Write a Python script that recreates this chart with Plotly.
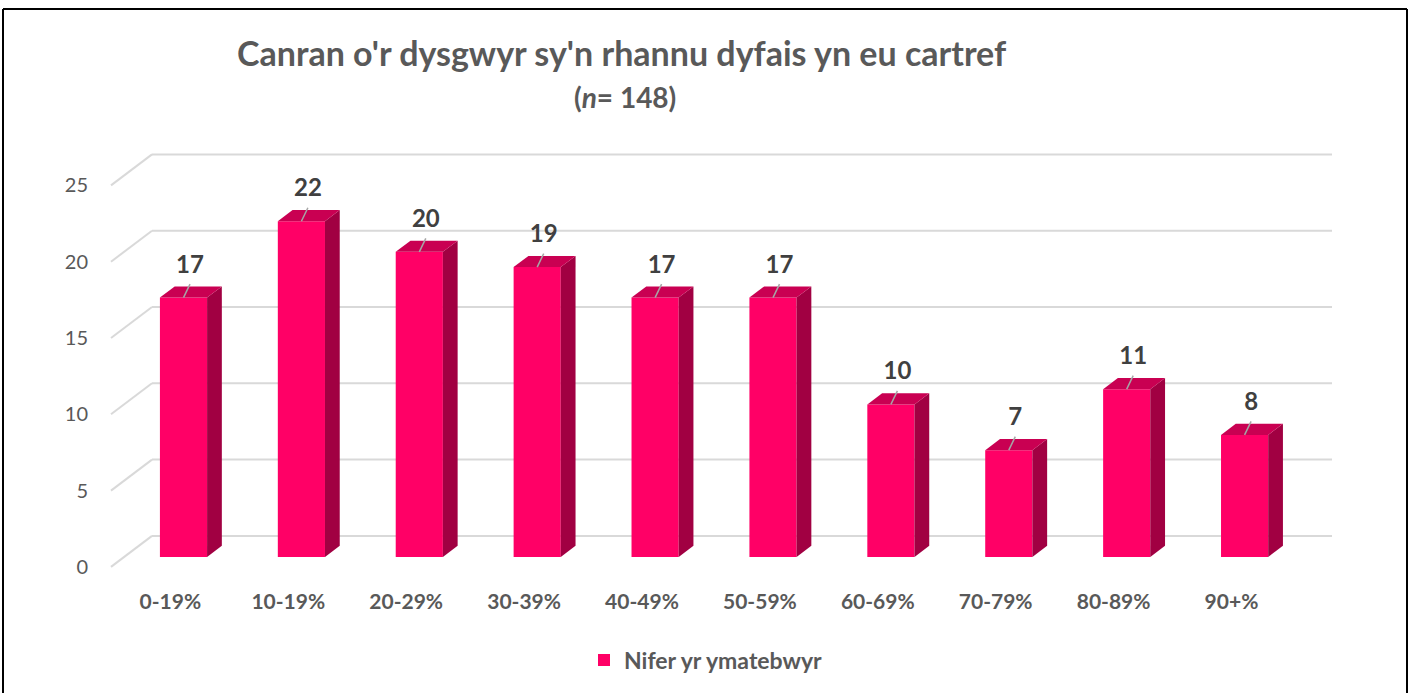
import plotly.graph_objects as go

# ---------------- data ----------------
categories = ["0-19%", "10-19%", "20-29%", "30-39%", "40-49%",
              "50-59%", "60-69%", "70-79%", "80-89%", "90+%"]
values = [17, 22, 20, 19, 17, 17, 10, 7, 11, 8]
y_ticks = [0, 5, 10, 15, 20, 25]
series_name = "Nifer yr ymatebwyr"
title_text = "Canran o'r dysgwyr sy'n rhannu dyfais yn eu cartref"
subtitle_text = "(<i>n</i>= 148)"

# ---------------- styling / geometry (page pixels) ----------------
W, H = 1414, 693
L, R, T, B = 100, 1340, 130, 580          # plot area in page pixels
PX_X = 117.9                              # pixels per category
PX_Y = 15.26                              # pixels per unit value
X0_PX = 183.5                             # pixel of first category (bar front plane)
Y0_PX = 557                               # pixel of value 0 (bar front plane)
DEPTH_DX, DEPTH_DY = 41, 31               # full floor depth in pixels
FRONT_FRAC = 0.32                         # bar front face depth position
BAR_FRAC = 0.36                           # bar depth
BAR_W = 0.40
WALL_LEFT_FRONT_PX = 111
WALL_RIGHT_BACK_PX = 1332

FRONT = "#FF0066"
SIDE = "#A10042"
TOP = "#C90052"
GRID = "#D9D9D9"
TXT = "#595959"
LBL = "#404040"
FONT = "Lato"


def px_to_paper_x(px):
    return (px - L) / (R - L)


def px_to_paper_y(py):
    return (B - py) / (B - T)


xr = [-(X0_PX - L) / PX_X, (R - X0_PX) / PX_X]
yr = [-(B - Y0_PX) / PX_Y, (Y0_PX - T) / PX_Y]

fdx = FRONT_FRAC * DEPTH_DX / PX_X
fdy = FRONT_FRAC * DEPTH_DY / PX_Y
bkdx = (1 - FRONT_FRAC) * DEPTH_DX / PX_X
bkdy = (1 - FRONT_FRAC) * DEPTH_DY / PX_Y
bdx = BAR_FRAC * DEPTH_DX / PX_X
bdy = BAR_FRAC * DEPTH_DY / PX_Y

wall_front_x = (WALL_LEFT_FRONT_PX - X0_PX) / PX_X
wall_back_x = wall_front_x + DEPTH_DX / PX_X
wall_right_x = (WALL_RIGHT_BACK_PX - X0_PX) / PX_X

fig = go.Figure()

# gridlines (below traces)
shapes = []
for v in y_ticks:
    shapes.append(dict(type="line", xref="x", yref="y", layer="below",
                       x0=wall_front_x, y0=v - fdy,
                       x1=wall_back_x, y1=v + bkdy,
                       line=dict(color=GRID, width=2)))
    shapes.append(dict(type="line", xref="x", yref="y", layer="below",
                       x0=wall_back_x, y0=v + bkdy,
                       x1=wall_right_x, y1=v + bkdy,
                       line=dict(color=GRID, width=2)))

# outer frame (top, left, right edges)
for (ax0, ay0, ax1, ay1) in [(3, 9, 1407, 9), (3, 9, 3, 700), (1407, 9, 1407, 700)]:
    shapes.append(dict(type="line", xref="paper", yref="paper", layer="above",
                       x0=px_to_paper_x(ax0), y0=px_to_paper_y(ay0),
                       x1=px_to_paper_x(ax1), y1=px_to_paper_y(ay1),
                       line=dict(color="black", width=2)))

idx = list(range(len(categories)))

# front faces
fig.add_trace(go.Bar(x=idx, y=values, width=BAR_W, name=series_name,
                     marker=dict(color=FRONT, line=dict(width=0)),
                     hoverinfo="skip", showlegend=True))

# side and top faces
for i, v in zip(idx, values):
    xr_ = i + BAR_W / 2
    xl_ = i - BAR_W / 2
    fig.add_trace(go.Scatter(
        x=[xr_, xr_ + bdx, xr_ + bdx, xr_, xr_],
        y=[0, bdy, v + bdy, v, 0],
        fill="toself", fillcolor=SIDE, mode="lines", line=dict(width=0, color=SIDE),
        hoverinfo="skip", showlegend=False))
    fig.add_trace(go.Scatter(
        x=[xl_, xr_, xr_ + bdx, xl_ + bdx, xl_],
        y=[v, v, v + bdy, v + bdy, v],
        fill="toself", fillcolor=TOP, mode="lines", line=dict(width=0, color=TOP),
        hoverinfo="skip", showlegend=False))

# leader lines and data labels
LEAD_DX, LEAD_DY = 6.5 / PX_X, 13.5 / PX_Y
LAB_DX, LAB_DY = 6.5 / PX_X, 31 / PX_Y
lx, ly = [], []
for i, v in zip(idx, values):
    lx += [i, i + LEAD_DX, None]
    ly += [v, v + LEAD_DY, None]
fig.add_trace(go.Scatter(x=lx, y=ly, mode="lines",
                         line=dict(color="#A6A6A6", width=1.5),
                         hoverinfo="skip", showlegend=False))
fig.add_trace(go.Scatter(x=[i + LAB_DX for i in idx], y=[v + LAB_DY for v in values],
                         mode="text", text=[str(v) for v in values],
                         textposition="middle center",
                         textfont=dict(family=FONT, size=24, color=LBL, weight="bold"),
                         hoverinfo="skip", showlegend=False))

# dummy trace to carry the front-edge tick axes
fig.add_trace(go.Scatter(x=[None], y=[None], xaxis="x2", yaxis="y2",
                         mode="markers", hoverinfo="skip", showlegend=False))

fig.update_layout(
    width=W, height=H,
    margin=dict(l=L, r=W - R, t=T, b=H - B, pad=0),
    paper_bgcolor="white", plot_bgcolor="white",
    font=dict(family=FONT, color=TXT),
    shapes=shapes,
    xaxis=dict(range=xr, visible=False, fixedrange=True),
    yaxis=dict(range=yr, visible=False, fixedrange=True),
    xaxis2=dict(overlaying="x", range=[xr[0] + fdx, xr[1] + fdx],
                tickmode="array", tickvals=idx, ticktext=categories,
                showgrid=False, zeroline=False, showline=False, ticks="",
                ticklabelstandoff=7,
                tickfont=dict(family=FONT, size=21, color=TXT, weight="bold"),
                fixedrange=True),
    yaxis2=dict(overlaying="y", range=[yr[0] + fdy, yr[1] + fdy],
                tickmode="array", tickvals=y_ticks,
                showgrid=False, zeroline=False, showline=False, ticks="",
                ticklabelstandoff=11,
                tickfont=dict(family=FONT, size=20, color=TXT),
                fixedrange=True),
    showlegend=True,
    legend=dict(orientation="h", x=px_to_paper_x(584), y=px_to_paper_y(660),
                xanchor="left", yanchor="middle",
                font=dict(family=FONT, size=23, color=TXT, weight="bold"),
                itemwidth=30, bgcolor="rgba(0,0,0,0)"),
    annotations=[
        dict(text="<b>" + title_text + "</b>", xref="paper", yref="paper",
             x=px_to_paper_x(622), y=px_to_paper_y(52), xanchor="center", yanchor="middle",
             showarrow=False, font=dict(family=FONT, size=34, color=TXT)),
        dict(text="<b>" + subtitle_text + "</b>", xref="paper", yref="paper",
             x=px_to_paper_x(625), y=px_to_paper_y(97), xanchor="center", yanchor="middle",
             showarrow=False, font=dict(family=FONT, size=28, color=TXT)),
    ],
)

fig.write_html("out.html", config={"displayModeBar": False},
               post_script="document.body.style.margin='0';"
               "document.documentElement.style.overflow='hidden';")
